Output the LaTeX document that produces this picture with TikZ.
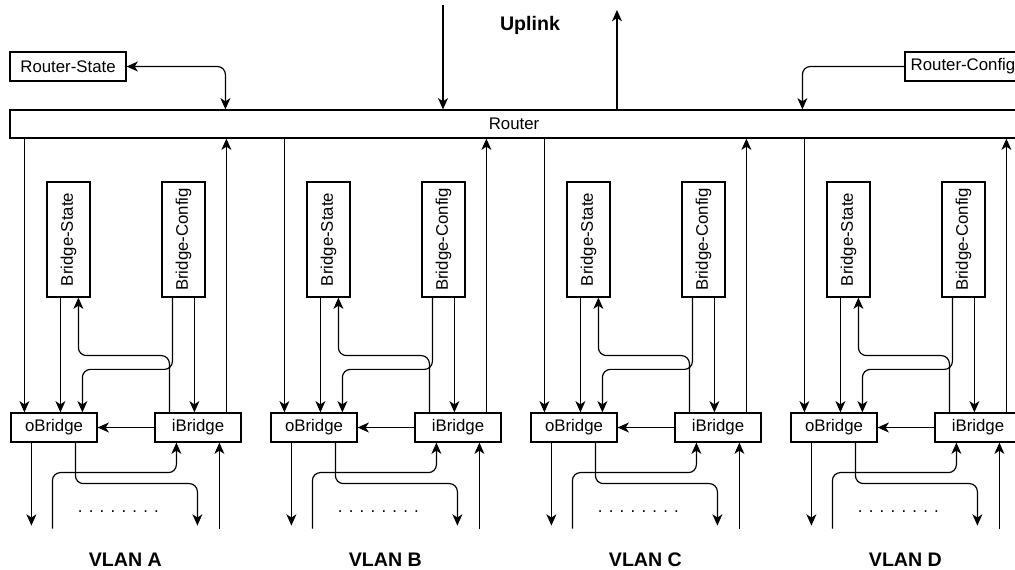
\documentclass[tikz,border=0pt]{standalone}
\usepackage{fontspec}
\usepackage{graphicx}
\setmainfont{Liberation Sans}
\usetikzlibrary{arrows.meta,calc,positioning}

\begin{document}
\begin{tikzpicture}[x=0.75pt,y=-0.75pt,line width=0.9pt,
    >={Stealth[length=8.5pt,width=7.5pt,inset=2.5pt]},
    every node/.style={font=\fontsize{12.6}{15}\selectfont},
    box/.style={draw,line width=0.9pt,rectangle,inner sep=0pt},
    bridge/.style={box,minimum width=64.5pt,minimum height=21.75pt},
    store/.style={box,minimum width=32.25pt,minimum height=86.25pt},
    title/.style={font=\fontsize{14.7}{17}\selectfont\bfseries},
    rc/.style={rounded corners=6pt}]
  \useasboundingbox (0,0) rectangle (1015,570);
  \clip (0,0) rectangle (1015,570);

  % router and uplink
  \node[box,minimum width=756pt,minimum height=21pt] (router) at (514,124) {Router};
  \node[box,minimum width=87pt,minimum height=21.75pt] (rstate) at (68,66.5) {Router-State};
  \node[box,minimum width=87pt,minimum height=21.75pt] (rconfig) at (963,66.5) {Router-Config};
  \node[title] (uplink) at (530,25) {Uplink};
  \coordinate (upin) at (443,5);
  \coordinate (upout) at (617,10);
  \draw[->] (upin) -- (upin |- router.north);
  \draw[->] (upout |- router.north) -- (upout);
  \coordinate (r1) at ($(router.north west)+(216,0)$);
  \coordinate (r2) at ($(router.north west)+(793,0)$);
  \draw[<->,rc] (rstate.east) -| (r1);
  \draw[->,rc] (rconfig.west) -| (r2);

  % one block per VLAN
  \foreach \v [count=\i from 0] in {A,B,C,D} {
    \pgfmathsetmacro{\dx}{\i*260}
    \node[bridge] (ob\v) at (54+\dx,427.5) {oBridge};
    \node[bridge] (ib\v) at (198+\dx,427.5) {iBridge};
    \node[store] (bs\v) at (68.5+\dx,239.5) {\rotatebox{90}{Bridge-State}};
    \node[store] (bc\v) at (183.5+\dx,239.5) {\rotatebox{90}{Bridge-Config}};
    \node[title] (vlan\v) at ($(ob\v.south west)+(115,117)$) {VLAN \v};
    \node (dots\v) at ($(ob\v.south west)+(108,69)$) {. . . . . . . .};
    % top side
    \coordinate (o1) at ($(ob\v.north west)+(14,0)$);
    \coordinate (o2) at ($(ob\v.north west)+(50,0)$);
    \coordinate (o3) at ($(ob\v.north west)+(72,0)$);
    \coordinate (b1) at ($(bs\v.south west)+(32,0)$);
    \coordinate (i1) at ($(ib\v.north west)+(15,0)$);
    \coordinate (i2) at ($(ib\v.north west)+(18,0)$);
    \coordinate (i3) at ($(ib\v.north west)+(40,0)$);
    \coordinate (i4) at ($(ib\v.north west)+(72,0)$);
    \draw[->] (router.south -| o1) -- (o1);
    \draw[->] (bs\v.south -| o2) -- (o2);
    \draw[->,rc] (i1) |- ($(b1)+(0,58)$) -- (b1);
    \draw[->,rc] (bc\v.south -| i2) |- ($(o3)+(0,-43)$) -- (o3);
    \draw[->] (bc\v.south -| i3) -- (i3);
    \draw[->] (i4) -- (router.south -| i4);
    \draw[->] (ib\v.west) -- (ob\v.east);
    % bottom side
    \coordinate (o4) at ($(ob\v.south west)+(21,0)$);
    \coordinate (o5) at ($(ob\v.south west)+(65,0)$);
    \coordinate (e1) at ($(o4)+(0,83)$);
    \coordinate (e2) at ($(ob\v.south west)+(187,83)$);
    \coordinate (s1) at ($(ob\v.south west)+(42,86)$);
    \coordinate (s2) at ($(ob\v.south west)+(209,86)$);
    \coordinate (i5) at ($(ib\v.south west)+(22,0)$);
    \draw[->] (o4) -- (e1);
    \draw[->,rc] (o5) |- ($(e2)+(0,-42)$) -- (e2);
    \draw[->,rc] (s1) |- ($(i5)+(0,30)$) -- (i5);
    \draw[->] (s2) -- (s2 |- ib\v.south);
  }
\end{tikzpicture}
\end{document}
